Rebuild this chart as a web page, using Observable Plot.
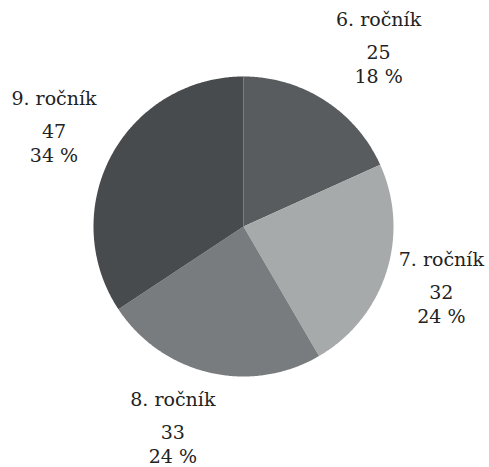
<!DOCTYPE html>
<html>
<head>
<meta charset="utf-8">
<script src="https://cdn.jsdelivr.net/npm/d3@7"></script>
<script src="https://cdn.jsdelivr.net/npm/@observablehq/plot@0.6"></script>
<style>
  html, body { margin: 0; padding: 0; background: #fff; }
  #chart svg { display: block; }
</style>
</head>
<body>
<div id="chart"></div>
<script>
// ---- data ----
const categories = ["6. ročník", "7. ročník", "8. ročník", "9. ročník"];
const counts = [25, 32, 33, 47];
const percents = [18, 24, 24, 34];

// ---- style / layout ----
const colors = ["#585c5e", "#a7aaab", "#787c7e", "#474b4d"];
const W = 489, H = 467;
const cx = 243, cy = 226, r = 150;
const labelR = 214 / r;
const labelNudge = [[19, 6], [-6, 1], [-22, -2], [-1, 7]];
const font = "DejaVu Serif";

const pie = d3.pie().sort(null).value(d => d.count);
const table = categories.map((c, i) => ({cat: c, count: counts[i], pct: percents[i], i}));
const arcs = pie(table);

// polygon outline points for each slice, in unit coordinates
const pts = [];
for (const a of arcs) {
  pts.push({cat: a.data.cat, x: 0, y: 0});
  const n = Math.max(2, Math.ceil((a.endAngle - a.startAngle) / 0.01));
  for (let k = 0; k <= n; k++) {
    const t = a.startAngle + (a.endAngle - a.startAngle) * k / n;
    pts.push({cat: a.data.cat, x: Math.sin(t), y: Math.cos(t)});
  }
}

const labels = arcs.map(a => {
  const m = (a.startAngle + a.endAngle) / 2;
  return {
    cat: a.data.cat,
    count: a.data.count,
    pct: a.data.pct,
    i: a.data.i,
    x: labelR * Math.sin(m),
    y: labelR * Math.cos(m)
  };
});

const seam = [{x1: 0, y1: 0, x2: Math.sin(arcs[0].startAngle), y2: Math.cos(arcs[0].startAngle)}];

const textCommon = {
  x: "x", y: "y",
  fontFamily: font, fontSize: 19, fill: "#222",
  textAnchor: "middle", lineAnchor: "middle"
};
const nx = d => labelNudge[d.i][0];

const chart = Plot.plot({
  width: W, height: H,
  margin: 0,
  x: {domain: [-1, 1], range: [cx - r, cx + r], axis: null},
  y: {domain: [-1, 1], range: [cy + r, cy - r], axis: null},
  color: {domain: categories, range: colors, legend: false},
  style: {background: "#fff"},
  marks: [
    Plot.line(pts, {x: "x", y: "y", z: "cat", fill: "cat", stroke: "none", curve: "linear-closed"}),
    Plot.link(seam, {x1: "x1", y1: "y1", x2: "x2", y2: "y2", stroke: "#7a7e80", strokeWidth: 1}),
    ...labels.map(d => [
      Plot.text([d], {...textCommon, text: "cat", dx: labelNudge[d.i][0], dy: labelNudge[d.i][1] - 33}),
      Plot.text([d], {...textCommon, text: "count", dx: labelNudge[d.i][0], dy: labelNudge[d.i][1]}),
      Plot.text([d], {...textCommon, text: v => v.pct + " %", dx: labelNudge[d.i][0], dy: labelNudge[d.i][1] + 24})
    ]).flat()
  ]
});
document.getElementById("chart").appendChild(chart);
</script>
</body>
</html>
